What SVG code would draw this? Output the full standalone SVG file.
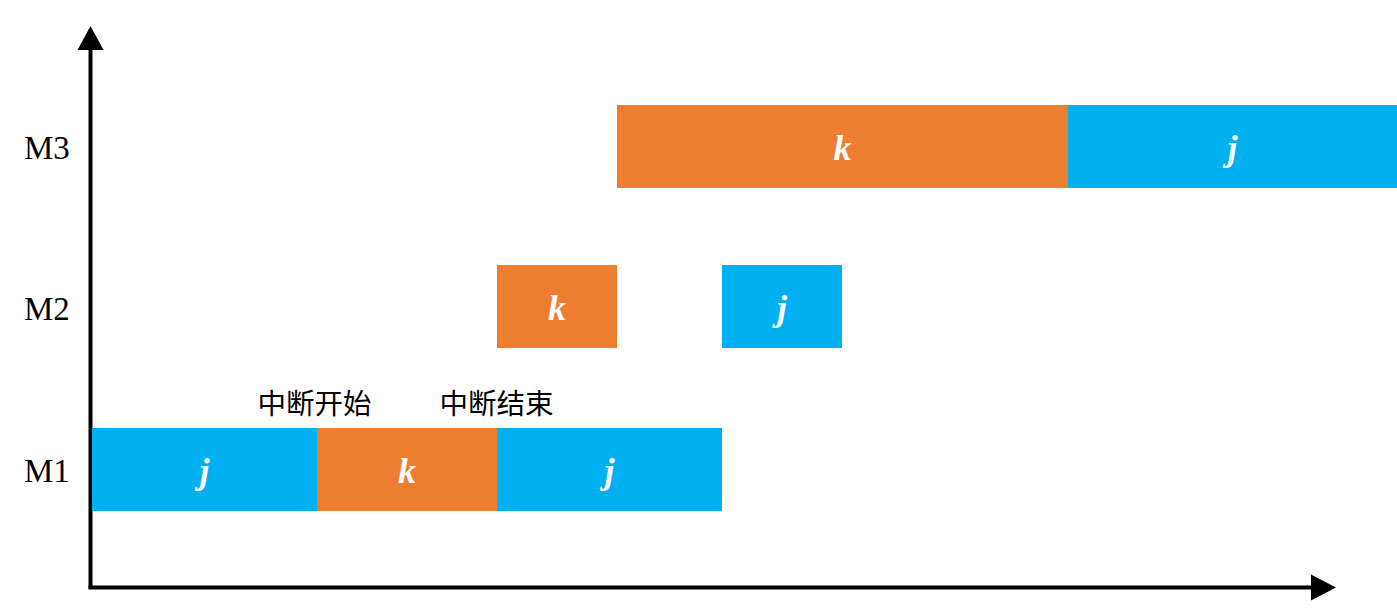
<svg xmlns="http://www.w3.org/2000/svg" width="1397" height="613" viewBox="0 0 1397 613">
<style>
.j{fill:#00B0F0}
.k{fill:#ED7D31}
.lt{font-family:"Liberation Serif","Times New Roman",serif;font-size:36px;font-weight:bold;font-style:italic;fill:#FFFFFF;text-anchor:middle}
.ml{font-family:"Liberation Serif","Times New Roman",serif;font-size:33px;fill:#000000}
.cn{font-family:"Microsoft YaHei","Noto Sans CJK SC",sans-serif;font-size:28.5px;fill:#000000;text-anchor:middle}
.ax{stroke:#000000;stroke-width:4;fill:none}
</style>
<rect width="1397" height="613" fill="#FFFFFF"/>
<g id="connectors">
<line class="ax" x1="90.5" y1="589" x2="90.5" y2="48"/>
<polygon points="90.5,26 77.5,50 103.5,50" fill="#000000"/>
<line class="ax" x1="88.5" y1="587.5" x2="1313" y2="587.5"/>
<polygon points="1336,587.5 1311,574.5 1311,600.5" fill="#000000"/>
</g>
<g id="label-M3"><text class="ml" x="24" y="159">M3</text></g>
<g id="label-M2"><text class="ml" x="24" y="320">M2</text></g>
<g id="label-M1"><text class="ml" x="24" y="482">M1</text></g>
<g id="m1-j1"><rect class="j" x="92" y="428" width="225" height="83"/><text class="lt" x="204.5" y="483">j</text></g>
<g id="m1-k"><rect class="k" x="317" y="428" width="180" height="83"/><text class="lt" x="407" y="483">k</text></g>
<g id="m1-j2"><rect class="j" x="497" y="428" width="225" height="83"/><text class="lt" x="609.5" y="483">j</text></g>
<g id="m2-k"><rect class="k" x="497" y="265" width="120" height="83"/><text class="lt" x="557" y="320">k</text></g>
<g id="m2-j"><rect class="j" x="722" y="265" width="120" height="83"/><text class="lt" x="782" y="320">j</text></g>
<g id="m3-k"><rect class="k" x="617" y="105" width="451" height="83"/><text class="lt" x="842.5" y="160">k</text></g>
<g id="m3-j"><rect class="j" x="1068" y="105" width="329" height="83"/><text class="lt" x="1232.5" y="160">j</text></g>
<g id="label-start"><text class="cn" x="314.5" y="414">中断开始</text></g>
<g id="label-end"><text class="cn" x="496.5" y="414">中断结束</text></g>
</svg>
